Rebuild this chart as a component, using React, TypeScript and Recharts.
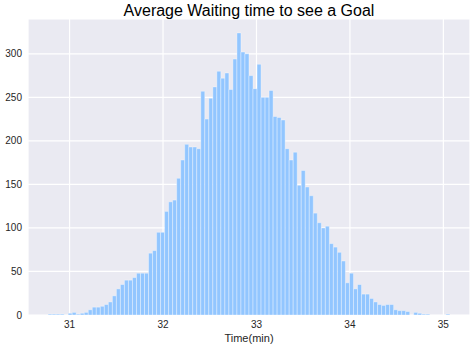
import React from 'react';
import { ComposedChart, Bar, XAxis, YAxis, CartesianGrid } from 'recharts';

const binStart = 30.77;
const binWidth = 0.043;
const counts: number[] = [
  1, 1, 1, 1, 0, 2, 3, 1, 2, 3,
  6, 9, 9, 10, 12, 15, 22, 30, 35, 40,
  40, 43, 48, 48, 48, 71, 74, 95, 95, 119,
  130, 132, 157, 178, 196, 193, 193, 191, 257, 225,
  249, 262, 280, 272, 278, 259, 294, 324, 302, 300,
  275, 260, 288, 250, 250, 258, 228, 227, 224, 191,
  178, 187, 149, 166, 147, 137, 117, 106, 100, 102,
  82, 78, 72, 62, 37, 48, 30, 35, 24, 24,
  19, 15, 12, 11, 12, 12, 6, 5, 5, 4,
  0, 3, 2, 1, 1, 0, 0, 0, 0, 1,
];
const xTicks = [31, 32, 33, 34, 35];
const yTicks = [0, 50, 100, 150, 200, 250, 300];

const data = counts.map((c, i) => ({ x: binStart + binWidth * (i + 0.5), count: c }));

const font = '"Liberation Sans", Arial, sans-serif';
const textColor = '#262626';

export default function App() {
  return (
    <div style={{ position: 'absolute', left: 0, top: 0, width: 474, height: 347, background: '#fff', fontFamily: font }}>
      <ComposedChart
        width={474}
        height={347}
        data={data}
        margin={{ top: 19, right: 4, left: 0, bottom: 0 }}
        barCategoryGap={0}
        barGap={0}
      >
        <CartesianGrid fill="#EAEAF2" stroke="#ffffff" strokeWidth={1.2} strokeOpacity={1} />
        <XAxis
          dataKey="x"
          type="number"
          domain={[30.555, 35.285]}
          ticks={xTicks}
          allowDataOverflow
          axisLine={false}
          tickLine={false}
          tickSize={4}
          tickMargin={2}
          height={32}
          tick={{ fontSize: 10, fill: textColor, fontFamily: font }}
        />
        <YAxis
          type="number"
          domain={[0, 340]}
          ticks={yTicks}
          allowDataOverflow
          axisLine={false}
          tickLine={false}
          tickSize={4}
          tickMargin={2}
          width={28}
          tick={{ fontSize: 10, fill: textColor, fontFamily: font }}
        />
        <Bar
          dataKey="count"
          fill="#92C6FF"
          stroke="#ffffff"
          strokeWidth={0.5}
          strokeOpacity={0.7}
          barSize={4}
          isAnimationActive={false}
        />
      </ComposedChart>
      <svg width={474} height={347} style={{ position: 'absolute', left: 0, top: 0, pointerEvents: 'none' }}>
        <text x={249} y={16} textAnchor="middle" fontSize={16} fill="#000" fontFamily={font}>
          Average Waiting time to see a Goal
        </text>
        <text x={249} y={342} textAnchor="middle" fontSize={11} fill={textColor} fontFamily={font}>
          Time(min)
        </text>
      </svg>
    </div>
  );
}
